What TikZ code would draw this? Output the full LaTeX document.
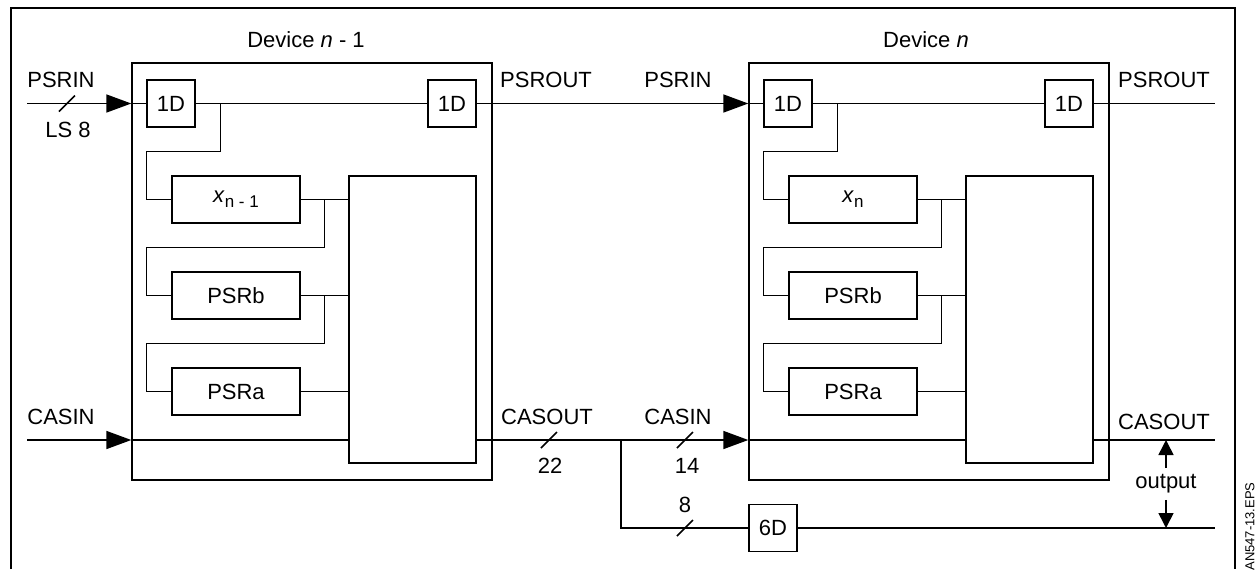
\documentclass[tikz,border=0pt]{standalone}
\usepackage{fontspec}
\setmainfont{Liberation Sans}
\usetikzlibrary{arrows.meta,positioning,calc}

\begin{document}
\begin{tikzpicture}[x=0.5pt, y=-0.5pt,
  font=\fontsize{11}{13}\selectfont,
  every node/.style={inner sep=1pt},
  frame/.style={draw, line width=0.7pt, minimum width=180pt, minimum height=208.5pt},
  dbox/.style={draw, line width=0.7pt, minimum width=24pt, minimum height=23.5pt, inner sep=0pt},
  regbox/.style={draw, line width=0.7pt, minimum width=64pt, minimum height=23.5pt, inner sep=0pt},
  combbox/.style={draw, line width=0.7pt, minimum width=63.5pt, minimum height=143.5pt, inner sep=0pt},
  wire/.style={line width=0.8pt},
  thinwire/.style={line width=0.6pt},
  arrow/.style={wire, -{Triangle[length=12.5pt, width=9pt]}},
  tip/.style={wire, -{Triangle[length=7.5pt, width=7.5pt]}}
]
\useasboundingbox (0,0) rectangle (1259,569);
\draw[line width=1pt] (11,569) -- (11,8) -- (1235,8) -- (1235,569);
\node[rotate=90, anchor=east, inner sep=0pt, font=\fontsize{6.5}{7}\selectfont] (eps) at (1250,482) {AN547-13.EPS};

% device n - 1
\node[frame] (da) at (312,271.5) {};
\node (dalbl) at (306,40) {Device \textit{n} - 1};
\node[dbox] (ina) at (171,103.5) {1D};
\node[dbox] (outa) at (452,103.5) {1D};
\node[regbox] (xa) at (236,199.5) {\textit{x}\raisebox{-0.45ex}{\fontsize{8.5}{9}\selectfont n - 1}};
\node[regbox] (pba) at (236,295.5) {PSRb};
\node[regbox] (paa) at (236,391.5) {PSRa};
\node[combbox] (ca) at (412.5,319.5) {};

% device n
\node[frame] (db) at (929,271.5) {};
\node (dblbl) at (926,40) {Device \textit{n}};
\node[dbox] (inb) at (788,103.5) {1D};
\node[dbox] (outb) at (1069,103.5) {1D};
\node[regbox] (xb) at (853,199.5) {\textit{x}\raisebox{-0.45ex}{\fontsize{8.5}{9}\selectfont n}};
\node[regbox] (pbb) at (853,295.5) {PSRb};
\node[regbox] (pab) at (853,391.5) {PSRa};
\node[combbox] (cb) at (1029.5,319.5) {};

% delay on the output path
\node[dbox] (sd) at (773,528) {6D};

% ends of the free lines
\coordinate (psrin) at (27,103.5);
\coordinate (casin) at (27,440);
\coordinate (psrout) at (1215,103.5);
\coordinate (casout) at (1215,440);
\coordinate (outd) at (1215,528);
\coordinate (tap) at (621,440);

% shift register path
\draw[arrow] (psrin) -- (psrin -| da.west);
\draw[wire] (psrin -| da.west) -- (ina.west);
\draw[wire] (ina.east) -- (outa.west);
\draw[arrow] (outa.east) -- (outa.east -| db.west);
\draw[wire] (outa.east -| db.west) -- (inb.west);
\draw[wire] (inb.east) -- (outb.west);
\draw[wire] (outb.east) -- (psrout);

% taps inside the devices
\draw[thinwire] ($(ina.east)+(25,0)$) -- ++(0,48) -| ($(xa.west)+(-25,0)$) -- (xa.west);
\draw[thinwire] ($(xa.east)+(24,0)$) -- ++(0,48) -| ($(pba.west)+(-25,0)$) -- (pba.west);
\draw[thinwire] ($(pba.east)+(24,0)$) -- ++(0,48) -| ($(paa.west)+(-25,0)$) -- (paa.west);
\draw[thinwire] (xa.east) -- (xa.east -| ca.west);
\draw[wire] (pba.east) -- (pba.east -| ca.west);
\draw[wire] (paa.east) -- (paa.east -| ca.west);

\draw[thinwire] ($(inb.east)+(25,0)$) -- ++(0,48) -| ($(xb.west)+(-25,0)$) -- (xb.west);
\draw[thinwire] ($(xb.east)+(24,0)$) -- ++(0,48) -| ($(pbb.west)+(-25,0)$) -- (pbb.west);
\draw[thinwire] ($(pbb.east)+(24,0)$) -- ++(0,48) -| ($(pab.west)+(-25,0)$) -- (pab.west);
\draw[thinwire] (xb.east) -- (xb.east -| cb.west);
\draw[wire] (pbb.east) -- (pbb.east -| cb.west);
\draw[wire] (pab.east) -- (pab.east -| cb.west);

% cascade path
\draw[arrow] (casin) -- (casin -| da.west);
\draw[wire] (casin -| da.west) -- (casin -| ca.west);
\draw[arrow] (casin -| ca.east) -- (casin -| db.west);
\draw[wire] (casin -| db.west) -- (casin -| cb.west);
\draw[wire] (casin -| cb.east) -- (casout);
\draw[wire] (tap) |- (sd.west);
\draw[wire] (sd.east) -- (outd);

% bus widths
\draw[wire] (67,103.5) +(-8,8) -- +(8,-8);
\draw[wire] (549,440) +(-8,8) -- +(8,-8);
\draw[wire] (685,440) +(-8,8) -- +(8,-8);
\draw[wire] (685,528) +(-8,8) -- +(8,-8);
\node (wls) at (68,130) {LS 8};
\node (w22) at (550,466) {22};
\node (w14) at (687,466) {14};
\node (w8) at (685,505) {8};

% signal names
\node (l1) at (61,80) {PSRIN};
\node (l2) at (61,417) {CASIN};
\node (l3) at (546,80) {PSROUT};
\node (l4) at (678,80) {PSRIN};
\node (l5) at (547,417) {CASOUT};
\node (l6) at (678,417) {CASIN};
\node (l7) at (1164,80) {PSROUT};
\node (l8) at (1164,422) {CASOUT};

% output selection
\node[inner sep=3pt] (outlbl) at (1166,484) {output};
\draw[tip] (outlbl.north) -- (outlbl.north |- casout);
\draw[tip] (outlbl.south) -- (outlbl.south |- outd);
\end{tikzpicture}
\end{document}
